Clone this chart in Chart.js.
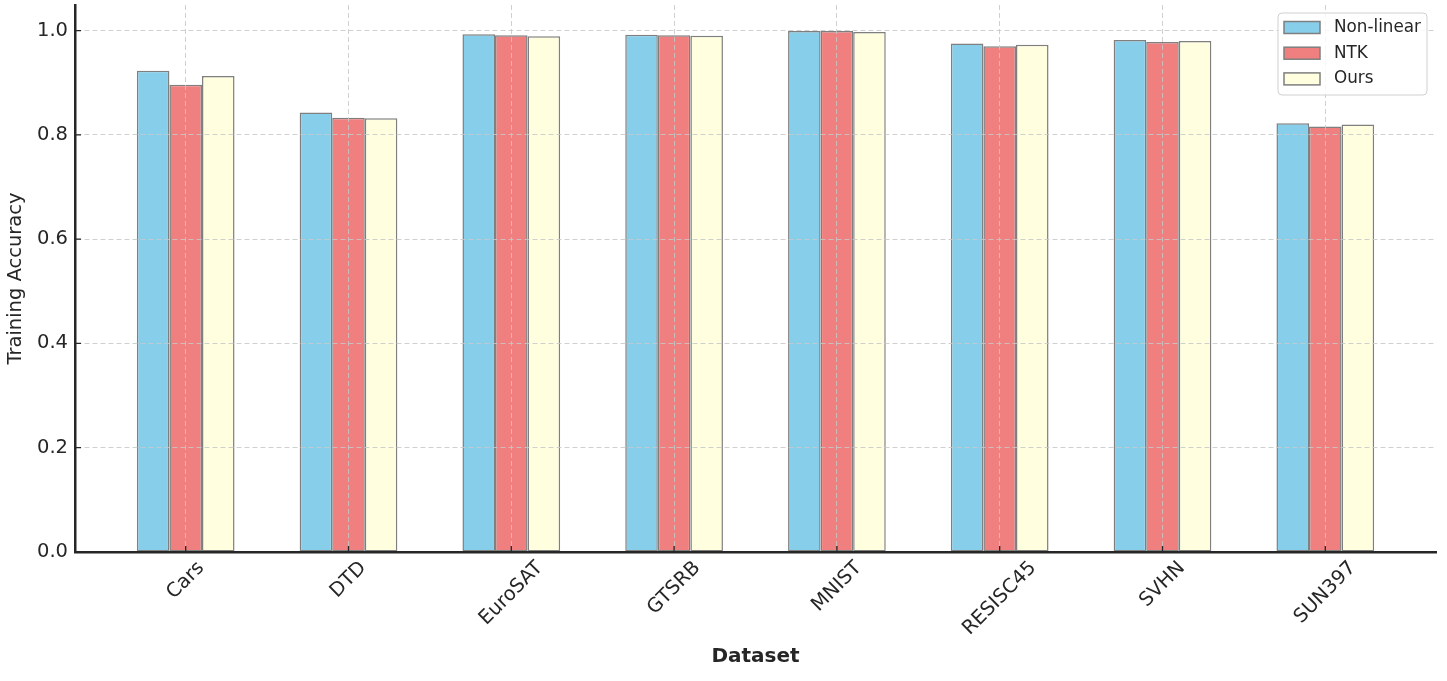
<!DOCTYPE html>
<html>
<head>
<meta charset="utf-8">
<script src="https://cdn.jsdelivr.net/npm/chart.js@4.4.1/dist/chart.umd.min.js"></script>
<style>
  body { margin: 0; background: #fff; }
  #wrap { width: 1447px; height: 681px; }
</style>
</head>
<body>
<div id="wrap"><canvas id="chart" width="1447" height="681"></canvas></div>
<script>
// dataset names on the x axis
const categories = ['Cars', 'DTD', 'EuroSAT', 'GTSRB', 'MNIST', 'RESISC45', 'SVHN', 'SUN397'];

// training accuracy per method
const nonLinear = [0.923, 0.843, 0.993, 0.992, 0.999, 0.975, 0.982, 0.822];
const ntk       = [0.896, 0.833, 0.991, 0.991, 0.999, 0.970, 0.978, 0.816];
const ours      = [0.913, 0.832, 0.989, 0.990, 0.997, 0.973, 0.980, 0.820];

const seriesNames = ['Non-linear', 'NTK', 'Ours'];
const yTicks = [0.0, 0.2, 0.4, 0.6, 0.8, 1.0];

const textColor = '#262626';
const edgeColor = '#7f7f7f';

function toPoints(values) {
  return values.map((v, i) => ({ x: i, y: v }));
}

// inward tick marks, rotated x labels (centred like matplotlib) and the legend box
const extras = {
  id: 'extras',
  afterDraw(chart) {
    const ctx = chart.ctx;
    const xs = chart.scales.x;
    const ys = chart.scales.y;
    const area = chart.chartArea;
    ctx.save();

    ctx.strokeStyle = textColor;
    ctx.lineWidth = 1.3;
    ctx.beginPath();
    categories.forEach((c, i) => {
      const px = xs.getPixelForValue(i);
      ctx.moveTo(px, area.bottom);
      ctx.lineTo(px, area.bottom - 6);
    });
    yTicks.forEach(v => {
      const py = ys.getPixelForValue(v);
      ctx.moveTo(area.left, py);
      ctx.lineTo(area.left + 6, py);
    });
    ctx.stroke();

    const fs = 19.5;
    ctx.font = fs + 'px "DejaVu Sans"';
    ctx.fillStyle = textColor;
    ctx.textAlign = 'center';
    ctx.textBaseline = 'middle';
    categories.forEach((c, i) => {
      const w = ctx.measureText(c).width;
      const boxH = (w + fs * 1.16) * Math.SQRT1_2;
      ctx.save();
      ctx.translate(xs.getPixelForValue(i), area.bottom + 5 + boxH / 2);
      ctx.rotate(-Math.PI / 4);
      ctx.fillText(c, 0, 0);
      ctx.restore();
    });

    // legend
    const lw = 149, lh = 82;
    const lx = area.right - 9 - lw;
    const ly = area.top + 8;
    ctx.beginPath();
    ctx.roundRect(lx, ly, lw, lh, 4);
    ctx.fillStyle = 'rgba(255,255,255,0.85)';
    ctx.fill();
    ctx.strokeStyle = '#d0d0d0';
    ctx.lineWidth = 1;
    ctx.stroke();

    ctx.font = '16.8px "DejaVu Sans"';
    ctx.textAlign = 'left';
    chart.data.datasets.forEach((ds, i) => {
      const cy = ly + 14.5 + i * 25.7;
      ctx.fillStyle = ds.backgroundColor;
      ctx.fillRect(lx + 6, cy - 6, 36, 12);
      ctx.strokeStyle = ds.borderColor;
      ctx.lineWidth = 1.5;
      ctx.strokeRect(lx + 6, cy - 6, 36, 12);
      ctx.fillStyle = textColor;
      ctx.fillText(ds.label, lx + 56, cy);
    });

    ctx.restore();
  }
};

Chart.defaults.font.family = '"DejaVu Sans", sans-serif';
Chart.defaults.color = textColor;

const chart = new Chart(document.getElementById('chart'), {
  type: 'bar',
  data: {
    datasets: [
      { label: seriesNames[0], data: toPoints(nonLinear), backgroundColor: '#87CEEB', borderColor: edgeColor, borderWidth: 1.5, borderSkipped: false },
      { label: seriesNames[1], data: toPoints(ntk), backgroundColor: '#F08080', borderColor: edgeColor, borderWidth: 1.5, borderSkipped: false },
      { label: seriesNames[2], data: toPoints(ours), backgroundColor: '#FFFFE0', borderColor: edgeColor, borderWidth: 1.5, borderSkipped: false }
    ]
  },
  options: {
    responsive: false,
    animation: false,
    categoryPercentage: 0.6,
    barPercentage: 1.0,
    layout: { padding: { top: 5, right: 11, left: 0, bottom: 0 } },
    plugins: {
      legend: { display: false },
      tooltip: { enabled: false }
    },
    scales: {
      x: {
        type: 'linear',
        min: -0.68,
        max: 7.68,
        offset: false,
        afterBuildTicks: (scale) => { scale.ticks = categories.map((c, i) => ({ value: i })); },
        afterFit: (scale) => { scale.height = 129; scale.paddingLeft = 0; scale.paddingRight = 0; },
        ticks: { display: false },
        grid: { offset: false, color: 'rgba(200,200,200,0.85)', lineWidth: 1, drawTicks: false, z: 1 },
        border: { display: true, color: textColor, width: 2.5, dash: [5, 3], z: 2 },
        title: { display: true, text: 'Dataset', font: { size: 20, weight: 'bold' }, padding: { top: 0, bottom: 12 } }
      },
      y: {
        min: 0,
        max: 1.049,
        afterBuildTicks: (scale) => { scale.ticks = yTicks.map(v => ({ value: v })); },
        afterFit: (scale) => { scale.width = 75; scale.paddingTop = 0; scale.paddingBottom = 0; },
        ticks: {
          font: { size: 19.5 },
          padding: 7,
          callback: (v) => Number(v).toFixed(1)
        },
        grid: { color: 'rgba(200,200,200,0.85)', lineWidth: 1, drawTicks: false, z: 1 },
        border: { display: true, color: textColor, width: 2.5, dash: [5, 3], z: 2 },
        title: { display: true, text: 'Training Accuracy', font: { size: 19.5 }, padding: { top: 4, bottom: 0 } }
      }
    }
  },
  plugins: [extras]
});
</script>
</body>
</html>
